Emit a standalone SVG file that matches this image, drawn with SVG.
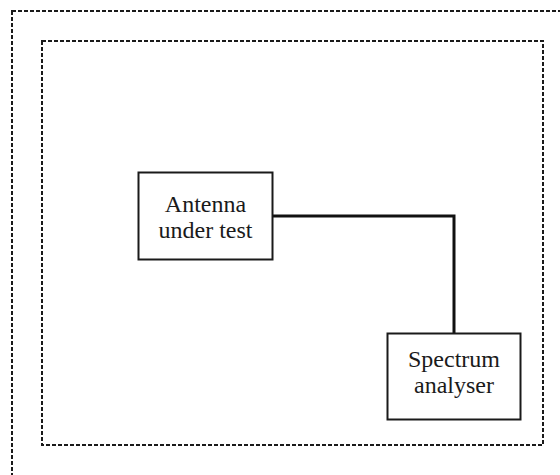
<svg xmlns="http://www.w3.org/2000/svg" width="560" height="475" viewBox="0 0 560 475">
  <style>
    .enclosure { fill: none; stroke: #1a1a1a; stroke-width: 2; stroke-dasharray: 4 2; }
    .box { fill: #ffffff; stroke: #1a1a1a; stroke-width: 2; }
    .label { font-family: "Liberation Serif", "Times New Roman", serif; font-size: 24px; fill: #1a1a1a; text-anchor: middle; }
    .wire { fill: none; stroke: #111111; stroke-width: 3; }
  </style>
  <rect width="560" height="475" fill="#ffffff"/>

  <!-- outer and inner screened enclosures -->
  <g id="outer-enclosure">
    <rect class="enclosure" x="12" y="11" width="560" height="480"/>
  </g>
  <g id="inner-enclosure">
    <rect class="enclosure" x="42" y="41" width="501" height="404"/>
  </g>

  <!-- cable between antenna and analyser -->
  <g id="connectors">
    <polyline class="wire" points="273,216 454,216 454,333"/>
  </g>

  <g id="antenna">
    <rect class="box" x="138.5" y="172.5" width="134" height="87"/>
    <text class="label" x="205.5" y="212">Antenna</text>
    <text class="label" x="205.5" y="238">under test</text>
  </g>

  <g id="analyser">
    <rect class="box" x="387.5" y="333.5" width="133" height="86"/>
    <text class="label" x="454" y="367">Spectrum</text>
    <text class="label" x="454" y="393">analyser</text>
  </g>
</svg>
